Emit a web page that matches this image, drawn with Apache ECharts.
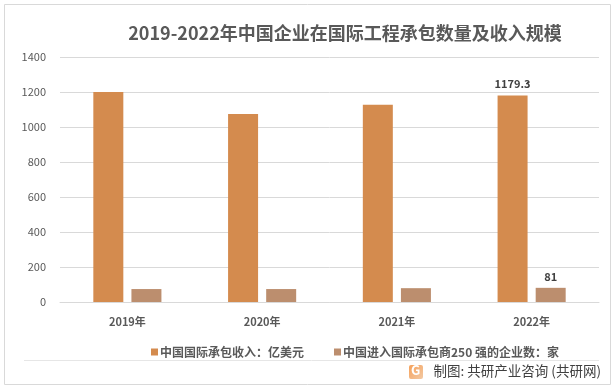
<!DOCTYPE html>
<html>
<head>
<meta charset="utf-8">
<script src="https://cdn.jsdelivr.net/npm/echarts@6/dist/echarts.min.js"></script>
<style>
html,body{margin:0;padding:0;background:#fff;}
#chart{width:615px;height:389px;}
</style>
</head>
<body>
<div id="chart"></div>
<script>
var categories = ['2019年', '2020年', '2021年', '2022年'];
var revenue = [1200, 1075, 1127, 1179.3];
var companies = [74, 74, 79, 81];
var seriesNames = ['中国国际承包收入：亿美元', '中国进入国际承包商250 强的企业数：家'];
var yTicks = { min: 0, max: 1400, interval: 200 };
var titleText = '2019-2022年中国企业在国际工程承包数量及收入规模';
var footerText = '制图: 共研产业咨询 (共研网)';

var font = '"Noto Sans CJK SC", "Noto Sans", sans-serif';
var chart = echarts.init(document.getElementById('chart'), null, { renderer: 'canvas' });

function labelOnLast(arr) {
  return arr.map(function (v, i) {
    return i === arr.length - 1 ? { value: v, label: { show: true } } : v;
  });
}

var labelStyle = {
  show: false, position: 'top', distance: 6,
  color: '#404040', fontSize: 11, fontWeight: 'bold', fontFamily: font
};

chart.setOption({
  animation: false,
  title: {
    text: titleText, left: 340, top: 19, textAlign: 'center',
    textStyle: { color: '#595959', fontSize: 18, fontWeight: 'bold', fontFamily: font }
  },
  grid: { left: 60, right: 16, top: 57, bottom: 87, containLabel: false },
  legend: {
    data: seriesNames, left: 146, top: 341, itemWidth: 7, itemHeight: 7, itemGap: 30,
    icon: 'rect',
    textStyle: { color: '#595959', fontSize: 12, fontWeight: 'bold', fontFamily: font, padding: [0, 0, 0, -3] }
  },
  xAxis: {
    type: 'category', data: categories,
    axisLine: { lineStyle: { color: '#D9D9D9', width: 1 } },
    axisTick: { show: false },
    axisLabel: { color: '#595959', fontSize: 11, fontWeight: 'bold', fontFamily: font, margin: 14 }
  },
  yAxis: {
    type: 'value', min: yTicks.min, max: yTicks.max, interval: yTicks.interval,
    axisLine: { show: false }, axisTick: { show: false },
    splitLine: { lineStyle: { color: '#D9D9D9', width: 1 } },
    axisLabel: { color: '#595959', fontSize: 11, fontFamily: font, margin: 14,
      formatter: function (v) { return String(v); } }
  },
  series: [
    {
      name: seriesNames[0], type: 'bar', barWidth: 30, barGap: '27%',
      itemStyle: { color: '#D48B4E' },
      label: labelStyle,
      data: labelOnLast(revenue)
    },
    {
      name: seriesNames[1], type: 'bar', barWidth: 30,
      itemStyle: { color: '#BC8E6E' },
      label: labelStyle,
      data: labelOnLast(companies)
    }
  ],
  graphic: [
    { type: 'rect', shape: { x: 4.5, y: 4.5, width: 606, height: 380 },
      style: { fill: 'none', stroke: '#D9D9D9', lineWidth: 1 }, silent: true, z: -1 },
    { type: 'line', shape: { x1: 24, y1: 360.5, x2: 599, y2: 360.5 },
      style: { stroke: '#E6E6E6', lineWidth: 1 }, silent: true },
    { type: 'rect', shape: { x: 409, y: 365, width: 14, height: 14, r: 2 },
      style: { fill: new echarts.graphic.LinearGradient(0, 0, 1, 1, [
        { offset: 0, color: '#F6A15A' }, { offset: 1, color: '#F2C9A4' }]) }, silent: true },
    { type: 'text', left: 411, top: 364,
      style: { text: 'G', fill: '#fff', font: 'bold 13px ' + font }, silent: true },
    { type: 'text', right: 14, top: 364,
      style: { text: footerText, fill: '#404040', font: '13.5px ' + font }, silent: true }
  ]
});
</script>
</body>
</html>
